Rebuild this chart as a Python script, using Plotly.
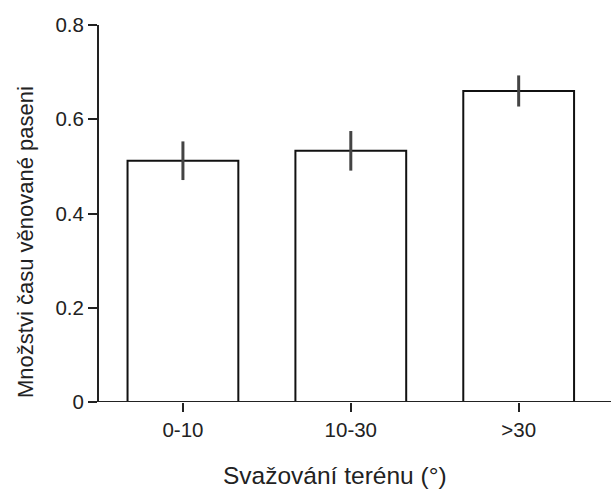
import plotly.graph_objects as go

categories = ["0-10", "10-30", ">30"]
values = [0.512, 0.533, 0.660]
errors = [0.041, 0.042, 0.033]
y_ticks = [0, 0.2, 0.4, 0.6, 0.8]
y_tick_labels = ["0", "0.2", "0.4", "0.6", "0.8"]
x_title = "Svažování terénu (°)"
y_title = "Množstvi času věnované paseni"

font_family = "Liberation Sans, Arial, sans-serif"

fig = go.Figure()
fig.add_trace(go.Bar(
    x=list(range(len(categories))),
    y=values,
    width=0.66,
    marker=dict(color="white", line=dict(color="#111", width=2)),
    error_y=dict(type="data", array=errors, visible=True, color="#444",
                 thickness=3, width=0),
))

fig.update_layout(
    width=611, height=493,
    margin=dict(l=99, r=0, t=25, b=91),
    plot_bgcolor="white", paper_bgcolor="white",
    showlegend=False,
    font=dict(family=font_family, size=20, color="#222"),
    xaxis=dict(
        range=[-0.5, 2.55],
        tickvals=list(range(len(categories))),
        ticktext=categories,
        ticks="outside", ticklen=9, tickwidth=2, tickcolor="#222",
        showline=False, showgrid=False, zeroline=False,
        tickfont=dict(size=20.5),
    ),
    yaxis=dict(
        range=[0, 0.8],
        tickvals=y_ticks,
        ticktext=y_tick_labels,
        ticks="outside", ticklen=9, tickwidth=2, tickcolor="#222",
        showline=True, linecolor="#222", linewidth=2,
        showgrid=False, zeroline=False,
        tickfont=dict(size=20.5),
    ),
)

# x-axis baseline (extends left past the y axis, like the original)
fig.add_shape(type="line", xref="paper", yref="y",
              x0=-9/512, x1=1, y0=0, y1=0,
              line=dict(color="#222", width=2))

fig.add_annotation(text=x_title, xref="paper", yref="paper",
                   x=(335-99)/512, y=-(475-402)/377,
                   xanchor="center", yanchor="middle", showarrow=False,
                   font=dict(size=24.5, family=font_family, color="#222"))
fig.add_annotation(text=y_title, xref="paper", yref="paper",
                   x=-(99-25)/512, y=(402-242)/377,
                   xanchor="center", yanchor="middle", showarrow=False,
                   textangle=-90,
                   font=dict(size=22, family=font_family, color="#222"))

fig.write_html(
    "out.html",
    config={"displayModeBar": False},
    post_script="document.body.style.margin='0';document.body.style.padding='0';",
)
